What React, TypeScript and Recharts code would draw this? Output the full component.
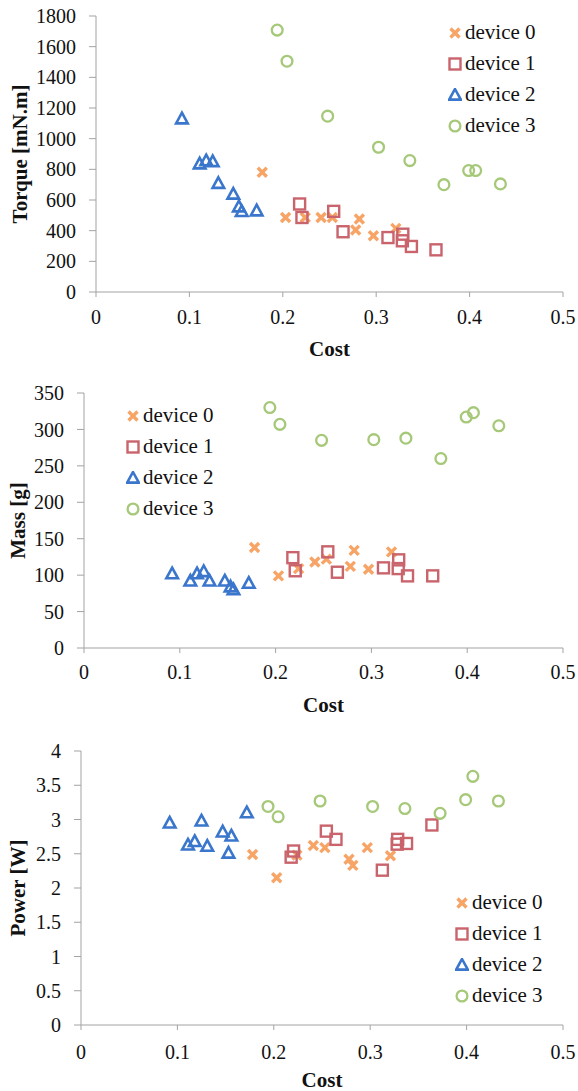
import { Legend, Scatter, ScatterChart, XAxis, YAxis } from "recharts"

const font = "Liberation Serif, Times New Roman, serif"

const deviceNames = ["device 0", "device 1", "device 2", "device 3"]
const deviceColors = ["#f7a467", "#c9646c", "#3a76cb", "#a6c879"]

// cost of each design, same for all three plots
const cost0 = [0.178, 0.203, 0.224, 0.241, 0.253, 0.278, 0.282, 0.297, 0.321]
const cost1 = [0.218, 0.2205, 0.2545, 0.2645, 0.3126, 0.3285, 0.328, 0.3377, 0.364]
const cost2 = [0.092, 0.111, 0.118, 0.125, 0.131, 0.147, 0.153, 0.156, 0.172]
const cost3 = [0.194, 0.2045, 0.248, 0.3025, 0.336, 0.3725, 0.399, 0.4065, 0.433]

const torque0 = [781, 486, 486, 486, 486, 404, 476, 367, 415]
const torque1 = [574, 486, 526, 393, 355, 377, 334, 297, 275]
const torque2 = [1130, 836, 857, 851, 709, 639, 556, 526, 530]
const torque3 = [1708, 1505, 1147, 944, 857, 700, 792, 792, 705]

const mass0 = [138, 99, 109, 118, 122, 112, 134, 108, 132]
const mass1 = [124, 106, 132, 104, 110, 121, 109, 99, 99]
const mass2 = [102, 92, 102, 105, 92, 92, 84, 80, 89]
const mass3 = [330, 307, 285, 286, 288, 260, 317, 323, 305]

const power0 = [2.49, 2.15, 2.48, 2.62, 2.59, 2.42, 2.33, 2.59, 2.47]
const power1 = [2.45, 2.54, 2.83, 2.71, 2.26, 2.71, 2.64, 2.65, 2.92]
const power2 = [2.95, 2.63, 2.68, 2.98, 2.61, 2.82, 2.51, 2.76, 3.1]
const power3 = [3.19, 3.04, 3.27, 3.19, 3.16, 3.09, 3.29, 3.63, 3.27]

const costTicks = [0, 0.1, 0.2, 0.3, 0.4, 0.5]
const torqueTicks = [0, 200, 400, 600, 800, 1000, 1200, 1400, 1600, 1800]
const massTicks = [0, 50, 100, 150, 200, 250, 300, 350]
const powerTicks = [0, 0.5, 1, 1.5, 2, 2.5, 3, 3.5, 4]

const costs = [cost0, cost1, cost2, cost3]
const zip = (c: number[], v: number[]) => c.map((x, i) => ({ cost: x, v: v[i] }))

function Marker({ kind, cx, cy }: { kind: number; cx: number; cy: number }) {
  const color = deviceColors[kind]
  if (kind === 0) {
    const s = 4.5
    return (
      <g stroke={color} strokeWidth={3.4} strokeLinecap="butt">
        <line x1={cx - s} y1={cy - s} x2={cx + s} y2={cy + s} />
        <line x1={cx - s} y1={cy + s} x2={cx + s} y2={cy - s} />
      </g>
    )
  }
  if (kind === 1) {
    return <rect x={cx - 5.5} y={cy - 5.5} width={11} height={11} fill="none" stroke={color} strokeWidth={2.4} />
  }
  if (kind === 2) {
    return (
      <polygon
        points={`${cx},${cy - 6} ${cx + 5.8},${cy + 4.6} ${cx - 5.8},${cy + 4.6}`}
        fill="none"
        stroke={color}
        strokeWidth={2.6}
        strokeLinejoin="miter"
      />
    )
  }
  return <circle cx={cx} cy={cy} r={5.4} fill="none" stroke={color} strokeWidth={2.3} />
}

const shapeFor = (kind: number) => (p: any) => <Marker kind={kind} cx={p.cx} cy={p.cy} />

const legendContent = (props: any) => {
  const items = props.payload || []
  return (
    <div style={{ fontFamily: font, fontSize: 21, color: "#111" }}>
      {items.map((it: any, i: number) => {
        const kind = deviceNames.indexOf(it.value)
        return (
          <div key={i} style={{ height: 31, display: "flex", alignItems: "center", whiteSpace: "nowrap" }}>
            <svg width={14} height={14} style={{ marginRight: 3 }}>
              <Marker kind={kind} cx={7} cy={7} />
            </svg>
            <span>{it.value}</span>
          </div>
        )
      })}
    </div>
  )
}

const yTitle = (text: string, x: number) => (props: any) => {
  const vb = props.viewBox
  const cy = vb.y + vb.height / 2
  return (
    <text
      x={x}
      y={cy}
      transform={`rotate(-90 ${x} ${cy})`}
      textAnchor="middle"
      dominantBaseline="central"
      fontFamily={font}
      fontSize={21}
      fontWeight="bold"
      fill="#111"
    >
      {text}
    </text>
  )
}

type PanelProps = {
  top: number
  height: number
  marginTop: number
  yWidth: number
  xHeight: number
  xGap: number
  costOffset: number
  yMax: number
  yTicks: number[]
  yLabel: string
  yLabelX: number
  values: number[][]
  legendLeft: number
  legendTop: number
}

function Panel(p: PanelProps) {
  const tickStyle = { fill: "#111", fontSize: 20, fontFamily: font }
  return (
    <div style={{ position: "absolute", left: 0, top: p.top, fontFamily: font }}>
      <ScatterChart
        width={578}
        height={p.height}
        margin={{ top: p.marginTop, right: 15, bottom: 0, left: 0 }}
        style={{ fontFamily: font }}
      >
        <XAxis
          type="number"
          dataKey="cost"
          domain={[0, 0.5]}
          ticks={costTicks}
          height={p.xHeight}
          stroke="#a3a3a3"
          tickSize={5}
          tickMargin={p.xGap}
          tick={tickStyle}
          label={{
            value: "Cost",
            position: "insideBottom",
            offset: p.costOffset,
            fontFamily: font,
            fontSize: 21,
            fontWeight: "bold",
            fill: "#111",
          }}
        />
        <YAxis
          type="number"
          dataKey="v"
          domain={[0, p.yMax]}
          ticks={p.yTicks}
          width={p.yWidth}
          stroke="#a3a3a3"
          tickSize={7}
          tickMargin={13}
          tick={tickStyle}
          label={{ content: yTitle(p.yLabel, p.yLabelX) }}
        />
        <Legend
          content={legendContent}
          layout="horizontal"
          verticalAlign="middle"
          align="center"
          wrapperStyle={{ left: p.legendLeft, top: p.legendTop, width: "auto", height: "auto" }}
        />
        {deviceNames.map((name, k) => (
          <Scatter
            key={name}
            name={name}
            data={zip(costs[k], p.values[k])}
            fill={deviceColors[k]}
            shape={shapeFor(k)}
            isAnimationActive={false}
          />
        ))}
      </ScatterChart>
    </div>
  )
}

export default function App() {
  return (
    <div
      style={{ position: "absolute", left: 0, top: 0, width: 578, height: 1091, background: "#fff", fontFamily: font }}
    >
      <Panel
        top={0}
        height={360}
        marginTop={16}
        yWidth={96}
        xHeight={68}
        xGap={13}
        costOffset={4}
        yMax={1800}
        yTicks={torqueTicks}
        yLabel="Torque [mN.m]"
        yLabelX={20}
        values={[torque0, torque1, torque2, torque3]}
        legendLeft={448}
        legendTop={17}
      />
      <Panel
        top={360}
        height={360}
        marginTop={33}
        yWidth={84}
        xHeight={72}
        xGap={12}
        costOffset={8}
        yMax={350}
        yTicks={massTicks}
        yLabel="Mass [g]"
        yLabelX={18}
        values={[mass0, mass1, mass2, mass3]}
        legendLeft={126}
        legendTop={40}
      />
      <Panel
        top={720}
        height={371}
        marginTop={31}
        yWidth={81}
        xHeight={66}
        xGap={15}
        costOffset={4}
        yMax={4}
        yTicks={powerTicks}
        yLabel="Power [W]"
        yLabelX={18}
        values={[power0, power1, power2, power3]}
        legendLeft={455}
        legendTop={167}
      />
    </div>
  )
}
